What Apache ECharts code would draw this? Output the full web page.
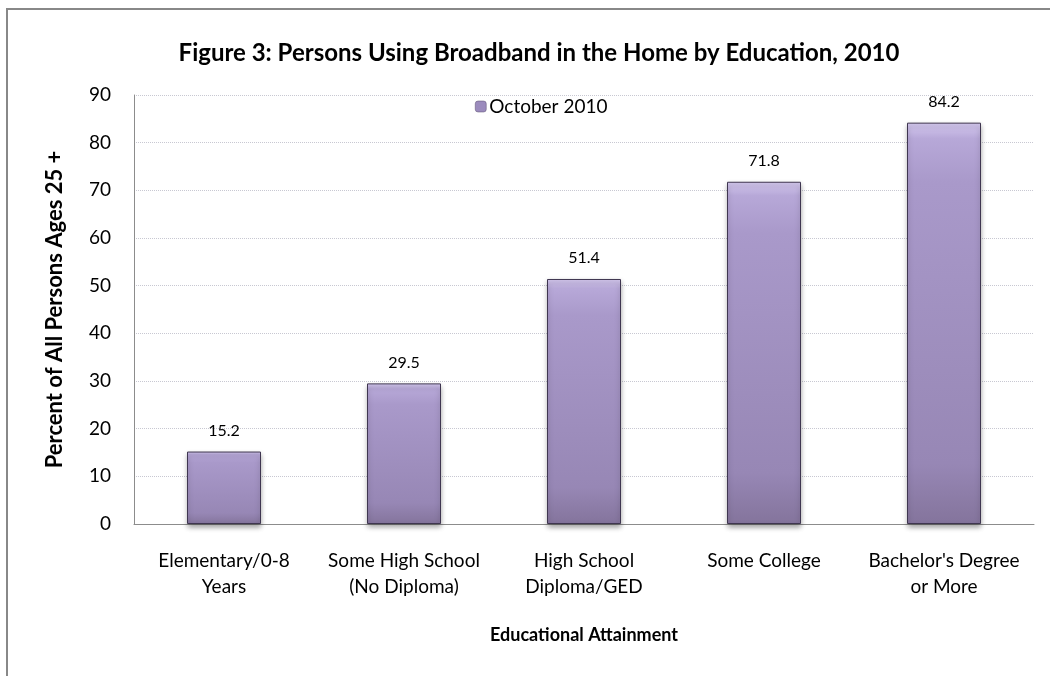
<!DOCTYPE html>
<html><head><meta charset="utf-8">
<script src="https://cdn.jsdelivr.net/npm/echarts@6/dist/echarts.min.js"></script>
<style>html,body{margin:0;padding:0;background:#fff}#c{width:1050px;height:676px}</style>
</head><body><div id="c"></div>
<script>
const categories = ["Elementary/0-8\nYears", "Some High School\n(No Diploma)", "High School\nDiploma/GED", "Some College", "Bachelor's Degree\nor More"];
const values = [15.2, 29.5, 51.4, 71.8, 84.2];
const seriesName = "October 2010";
const titleText = "Figure 3: Persons Using Broadband in the Home by Education, 2010";
const yAxisName = "Percent of All Persons Ages 25 +";
const xAxisName = "Educational Attainment";

const FONT = "Lato";
const chart = echarts.init(document.getElementById('c'));
chart.setOption({
  animation: false,
  backgroundColor: '#fff',
  graphic: [{
    type: 'rect', shape: {x: 7, y: 9, width: 1200, height: 800},
    style: {fill: 'none', stroke: '#888888', lineWidth: 2}, silent: true, z: -1
  }],
  title: {
    text: titleText, left: 534, textAlign: 'center', top: 36,
    textStyle: {fontFamily: FONT, fontWeight: 'bold', fontSize: 24, color: '#000'}
  },
  legend: {
    data: [seriesName], top: 92, left: 470,
    itemWidth: 11, itemHeight: 11, itemGap: 4,
    textStyle: {fontFamily: FONT, fontSize: 19, color: '#000', padding: [0, 0, 0, -2]},
    itemStyle: {color: '#9b8bbd', borderColor: '#5a4f6e', borderWidth: 0.5}
  },
  grid: {left: 134, right: 16, top: 95, bottom: 152},
  xAxis: {
    type: 'category', data: categories,
    name: xAxisName, nameLocation: 'middle', nameGap: 102,
    nameTextStyle: {fontFamily: FONT, fontWeight: 'bold', fontSize: 18, color: '#000'},
    axisLine: {lineStyle: {color: '#8c8c8c', width: 1}},
    axisTick: {show: false},
    axisLabel: {fontFamily: FONT, fontSize: 19, color: '#000', margin: 24, lineHeight: 26, interval: 0}
  },
  yAxis: {
    type: 'value', min: 0, max: 90, interval: 10,
    name: yAxisName, nameLocation: 'middle', nameGap: 68, nameRotate: 90,
    nameTextStyle: {fontFamily: FONT, fontWeight: 'bold', fontSize: 22, color: '#000'},
    axisLine: {show: true, lineStyle: {color: '#8c8c8c', width: 1}},
    axisTick: {show: false},
    axisLabel: {fontFamily: FONT, fontSize: 19, color: '#000', margin: 23},
    splitLine: {lineStyle: {type: 'dotted', color: '#c8c8d2', width: 1}}
  },
  series: [{
    name: seriesName, type: 'bar', data: values, barWidth: 74,
    itemStyle: {
      color: {type: 'linear', x: 0, y: 0, x2: 0, y2: 1, colorStops: [
        {offset: 0, color: '#d6caf0'},
        {offset: 0.04, color: '#b7a8d8'},
        {offset: 0.15, color: '#a999ca'},
        {offset: 0.85, color: '#9787b5'},
        {offset: 1, color: '#84749c'}
      ]},
      borderColor: '#3f3650', borderWidth: 1,
      shadowColor: 'rgba(0,0,0,0.35)', shadowBlur: 5, shadowOffsetY: 3
    },
    label: {show: true, position: 'top', distance: 13, fontFamily: FONT, fontSize: 16, color: '#000'}
  }]
});
</script></body></html>
